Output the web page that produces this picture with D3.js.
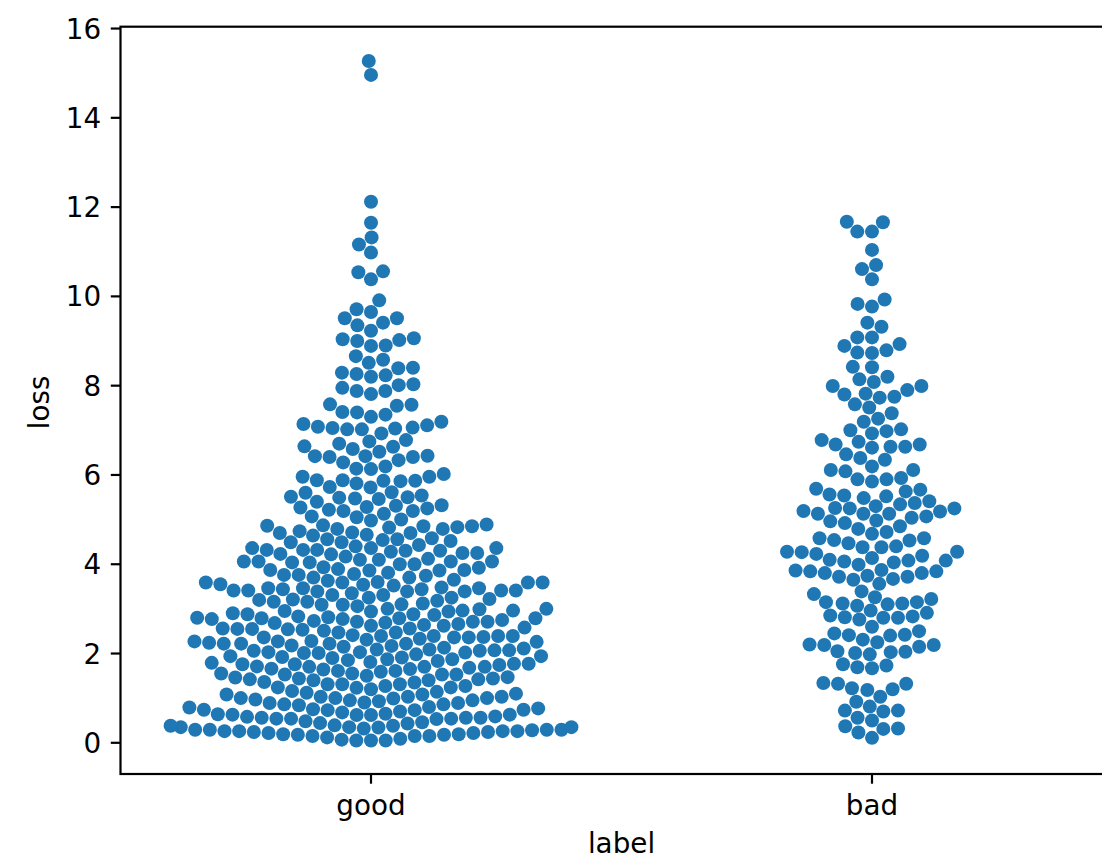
<!DOCTYPE html>
<html>
<head>
<meta charset="utf-8">
<script src="https://cdn.jsdelivr.net/npm/d3@7"></script>
<style>
  html, body { margin: 0; padding: 0; background: #fff; }
  svg { display: block; font-family: "DejaVu Sans", sans-serif; }
</style>
</head>
<body>
<svg id="chart" width="1102" height="859"></svg>
<script>
const categories = ["good", "bad"];

const goodLoss = [
  15.26, 14.95, 12.11, 11.64, 11.31, 11.15, 10.97, 10.53, 10.55, 10.37, 9.90, 9.70, 9.64, 9.50, 9.50, 9.40, 9.34, 9.22,
  9.05, 9.01, 8.99, 9.03, 8.89, 8.88, 8.65, 8.57, 8.50, 8.38, 8.39, 8.28, 8.25, 8.19, 8.22,
  8.02, 7.94, 8.00, 7.87, 7.80, 7.87, 7.57, 7.56, 7.54, 7.40, 7.39, 7.34, 7.29, 7.18, 7.13, 7.10, 7.07, 7.05, 7.01, 7.03,
  7.04, 7.01, 6.92, 6.77, 6.74, 6.69, 6.63, 6.62, 6.57, 6.51, 6.42, 6.41, 6.39, 6.39, 6.41, 6.32, 6.27, 6.18, 6.13, 6.12,
  6.01, 5.95, 5.95, 5.87, 5.86, 5.85, 5.87, 5.86, 5.80, 5.72, 5.71, 5.60, 5.59, 5.53, 5.50, 5.49, 5.48, 5.46, 5.45, 5.39,
  5.31, 5.30, 5.27, 5.26, 5.24, 5.21, 5.18, 5.18, 5.12, 5.06, 5.04, 4.99, 4.97, 4.88, 4.86, 4.85, 4.84, 4.84, 4.82, 4.81,
  4.78, 4.78, 4.73, 4.70, 4.69, 4.69,
  4.63, 4.65, 4.55, 4.53, 4.55, 4.57, 4.48, 4.51, 4.48, 4.42, 4.35, 4.31, 4.24, 4.27, 4.39, 4.31, 4.21, 4.31, 4.22, 4.35,
  4.29, 4.24, 4.29, 4.35, 4.16, 4.03, 4.05, 4.05, 4.09, 3.99, 3.99, 4.09, 4.05, 4.11, 4.03, 4.05, 3.88, 3.85, 3.91, 3.85,
  3.86, 3.80, 3.86, 3.92, 3.77, 3.69, 3.69, 3.75, 3.73, 3.75, 3.64, 3.59, 3.58, 3.58, 3.58, 3.53, 3.51, 3.58, 3.62, 3.54,
  3.47, 3.45, 3.45, 3.40, 3.45, 3.38, 3.40, 3.43, 3.38, 3.38, 3.43, 3.40, 3.40, 3.30, 3.21, 3.15, 3.20, 3.24, 3.19, 3.24,
  3.30, 3.34, 3.17, 3.08, 3.08, 3.05, 3.09, 3.11, 3.15, 2.95, 2.94, 2.87, 2.99, 2.89, 2.93, 2.99, 2.95, 2.98, 2.93, 2.78,
  2.76, 2.72, 2.70, 2.78, 2.85, 2.76, 2.79, 2.82, 2.87, 2.80, 2.68, 2.70, 2.70, 2.74, 2.78, 2.61, 2.54, 2.61, 2.53, 2.46,
  2.67, 2.57, 2.50, 2.63, 2.52, 2.65, 2.54, 2.55, 2.55, 2.46, 2.40,
  2.26, 2.35, 2.35, 2.38, 2.32, 2.38, 2.35, 2.36, 2.38, 2.38,
  2.12, 2.10, 2.05, 2.00, 2.25, 1.93, 2.21, 1.91, 2.05, 2.26, 1.89, 2.21, 1.86, 2.14, 1.82, 2.06, 1.78, 2.27, 1.97, 2.16,
  1.86, 2.30, 2.00, 2.17, 1.90, 2.06, 1.84, 2.21, 1.93, 2.23, 2.01, 2.02, 2.08, 2.02, 2.08, 2.21,
  1.80, 1.69, 1.76, 1.75, 1.64, 1.65, 1.73, 1.60, 1.58, 1.52, 1.49, 1.67, 1.54, 1.70, 1.60, 1.52, 1.63, 1.69, 1.75, 1.76, 1.69,
  1.54, 1.43, 1.39, 1.34, 1.46, 1.41, 1.22, 1.15, 1.13, 1.30, 1.26, 1.23, 1.19, 1.35, 1.30, 1.41, 1.11, 1.30, 1.23, 1.26,
  1.39, 1.43, 1.45, 1.52,
  1.07, 1.02, 0.98, 0.88, 0.85, 0.83, 0.99, 0.96, 0.92, 0.89, 0.94, 1.09, 0.99, 0.99, 0.85, 0.88, 0.94, 1.02, 1.02, 1.07,
  0.76, 0.73, 0.67, 0.61, 0.57, 0.55, 0.53, 0.53, 0.72, 0.69, 0.64, 0.62, 0.61, 0.62, 0.78, 0.72, 0.79,
  0.47, 0.42, 0.37, 0.34, 0.33, 0.34, 0.37, 0.52, 0.43, 0.45, 0.53, 0.55, 0.55, 0.58, 0.63, 0.73, 0.74,
  0.38, 0.31, 0.28, 0.28, 0.25, 0.25, 0.23, 0.21, 0.18, 0.17, 0.14, 0.11, 0.06, 0.04, 0.04, 0.04, 0.08, 0.14, 0.14, 0.17,
  0.18, 0.21, 0.23, 0.25, 0.25, 0.27, 0.28, 0.28, 0.34
];

const badLoss = [
  11.66, 11.65, 11.44, 11.44, 11.03, 10.69, 10.60, 10.37, 9.92, 9.82, 9.76, 9.40, 9.31, 9.07, 9.07, 8.92, 8.88, 8.78,
  8.72, 8.73, 8.40, 8.41, 8.19, 8.13, 8.07, 7.98, 7.98, 7.89, 7.81, 7.72, 7.74, 7.79, 7.57, 7.50, 7.37, 7.25, 7.18, 6.99,
  6.92, 6.97, 7.01, 6.77, 6.67, 6.67, 6.60, 6.62, 6.62, 6.73, 6.45, 6.37, 6.33, 6.18, 6.10, 6.10, 6.07,
  5.92, 5.89, 5.84, 5.89, 5.66, 5.62, 5.53, 5.68, 5.55, 5.51, 5.40, 5.47, 5.36, 5.33, 5.25, 5.29, 5.24, 5.24, 5.18, 5.12,
  5.12, 5.12, 5.17, 5.03, 5.06, 4.95, 4.91, 4.97, 4.84, 4.78, 4.67, 4.71, 4.57, 4.53, 4.57, 4.52, 4.46, 4.39, 4.37, 4.37,
  4.27, 4.22, 4.27, 4.18, 4.26, 4.13, 4.09, 4.07, 4.03, 4.05, 4.07, 3.98, 3.86, 3.83, 3.79, 3.83, 3.79, 3.85, 3.71, 3.66,
  3.64, 3.71, 3.73, 3.55, 3.32, 3.38, 3.25, 3.21, 3.14, 3.09, 3.06, 3.11, 3.11, 3.14, 2.95, 2.90, 2.84, 2.82, 2.79, 2.75,
  2.79, 2.80, 2.59, 2.49, 2.41, 2.40, 2.39, 2.44, 2.30, 2.19, 2.18, 2.24, 2.18, 2.14, 2.03, 2.04, 2.02, 1.97, 2.00, 1.75,
  1.68, 1.66, 1.72, 1.31, 1.21, 1.17, 1.19, 1.31, 1.33, 1.02, 0.91, 0.80, 0.71, 0.71, 0.69, 0.55, 0.49, 0.36, 0.30, 0.31,
  0.22, 0.10
];

const yTicks = [0, 2, 4, 6, 8, 10, 12, 14, 16];
const xLabel = "label";
const yLabel = "loss";

// ---- layout ----
const W = 1102, H = 859;
const axLeft = 120.5, axRight = 1122.5, axTop = 26.7, axBottom = 774;
const fontSize = 27.8;
const lw = 2.2;
const tickLen = 9.7, tickPad = 9.7;
const color = "#1f77b4";
const radius = 7;

const svg = d3.select("#chart");
svg.append("rect").attr("width", W).attr("height", H).attr("fill", "#fff");

const x = d3.scaleBand().domain(categories).range([axLeft, axRight]).padding(0);
const y = d3.scaleLinear().domain([-0.71, 16.03]).range([axBottom, axTop]);

// ---- seaborn-like beeswarm in pixel space ----
function beeswarm(values, cx) {
  const pts = values.map((v, i) => ({ i, v, y: y(v), x: cx, r: radius }));
  const sorted = pts.slice().sort((a, b) => a.v - b.v);
  const swarm = [];
  for (const p of sorted) {
    const neighbors = [];
    for (let k = swarm.length - 1; k >= 0; k--) {
      const q = swarm[k];
      if (Math.abs(p.y - q.y) < p.r + q.r) neighbors.push(q);
      else break;
    }
    neighbors.reverse();
    let cands = [cx];
    let leftFirst = true;
    for (const q of neighbors) {
      const dy = p.y - q.y;
      const dx = Math.sqrt(Math.max((p.r + q.r) ** 2 - dy * dy, 0)) * 1.05;
      const cl = q.x - dx, cr = q.x + dx;
      if (leftFirst) cands.push(cl, cr); else cands.push(cr, cl);
      leftFirst = !leftFirst;
    }
    const order = cands.map((c, k) => ({ c, k, off: Math.abs(c - cx) }))
      .sort((a, b) => a.off - b.off || a.k - b.k);
    let chosen = order[0].c;
    if (neighbors.length) {
      for (const o of order) {
        let ok = true;
        for (const q of neighbors) {
          const ddx = q.x - o.c, ddy = q.y - p.y;
          if (ddx * ddx + ddy * ddy < (q.r + p.r) ** 2 - 1e-9) { ok = false; break; }
        }
        if (ok) { chosen = o.c; break; }
      }
    }
    p.x = chosen;
    swarm.push(p);
  }
  const half = x.bandwidth() * 0.8 / 2;
  for (const p of pts) {
    if (p.x < cx - half) p.x = cx - half;
    if (p.x > cx + half) p.x = cx + half;
  }
  return pts;
}

const series = { good: goodLoss, bad: badLoss };
const allPts = [];
categories.forEach(cat => {
  const cx = x(cat) + x.bandwidth() / 2;
  beeswarm(series[cat], cx).forEach(p => allPts.push(p));
});

svg.append("g")
  .selectAll("circle")
  .data(allPts)
  .join("circle")
  .attr("cx", d => d.x)
  .attr("cy", d => d.y)
  .attr("r", radius)
  .attr("fill", color);

// ---- axes ----
const yAxis = d3.axisLeft(y).tickValues(yTicks).tickFormat(d3.format("d"))
  .tickSize(tickLen).tickPadding(tickPad).tickSizeOuter(0);
const gy = svg.append("g").attr("transform", `translate(${axLeft},0)`).call(yAxis);
gy.select(".domain").remove();
gy.selectAll(".tick line").attr("stroke", "#000").attr("stroke-width", lw);
gy.selectAll(".tick text").attr("fill", "#000").attr("font-size", fontSize)
  .attr("font-family", "DejaVu Sans").attr("dy", "0.36em");

const xAxis = d3.axisBottom(x).tickSize(tickLen).tickPadding(tickPad).tickSizeOuter(0);
const gx = svg.append("g").attr("transform", `translate(0,${axBottom})`).call(xAxis);
gx.select(".domain").remove();
gx.selectAll(".tick line").attr("stroke", "#000").attr("stroke-width", lw);
gx.selectAll(".tick text").attr("fill", "#000").attr("font-size", fontSize)
  .attr("font-family", "DejaVu Sans").attr("y", 41).attr("dy", "0");

// spines
const spines = svg.append("g").attr("stroke", "#000").attr("stroke-width", lw).attr("fill", "none");
spines.append("rect").attr("x", axLeft).attr("y", axTop)
  .attr("width", axRight - axLeft).attr("height", axBottom - axTop);

// axis labels
svg.append("text").attr("x", (axLeft + axRight) / 2).attr("y", 853)
  .attr("text-anchor", "middle").attr("font-size", fontSize).attr("fill", "#000")
  .text(xLabel);
svg.append("text").attr("transform", `translate(49,${(axTop + axBottom) / 2 + 2}) rotate(-90)`)
  .attr("text-anchor", "middle").attr("font-size", fontSize).attr("fill", "#000")
  .text(yLabel);
</script>
</body>
</html>
